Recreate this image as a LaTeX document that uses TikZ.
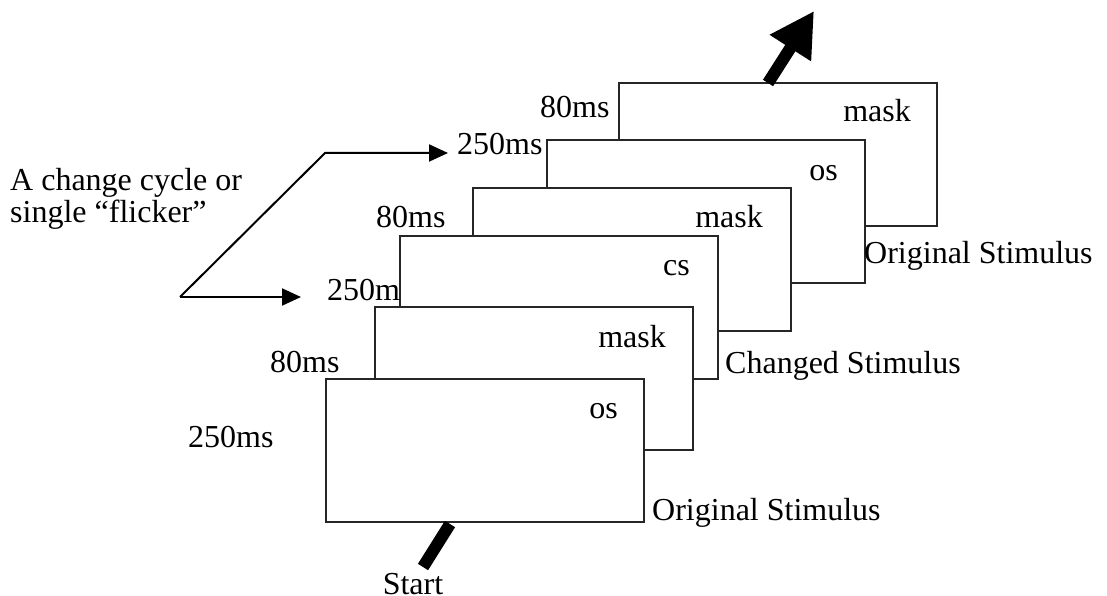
\documentclass[tikz,border=0pt]{standalone}
\usepackage{fontspec}
\setmainfont{Liberation Serif}
\usetikzlibrary{arrows.meta}
\begin{document}
\begin{tikzpicture}[x=1pt,y=-1pt,
  frame/.style={draw=black!85,line width=2pt,fill=white,inner sep=0pt,
    minimum width=318pt,minimum height=143pt,anchor=north west},
  lbl/.style={inner sep=0pt,font=\fontsize{32}{38}\selectfont},
  flow/.style={line width=2pt,-{Triangle[length=19pt,width=17pt]}},
  bigarrow/.style={line width=12pt,-{Triangle[length=44pt,width=46pt]}}]
\useasboundingbox (0,0) rectangle (1107,596);
% frames, back to front
\node[frame] (r1) at (618,82) {};
\node[frame] (r2) at (546,139) {};
\node[frame] (r3) at (472,187) {};
\node[frame] (r4) at (399,235) {};
\node[frame] (r5) at (374,306) {};
\node[frame] (r6) at (325,378) {};
% labels inside frames
\node[lbl,anchor=base east] (m1) at (911,122) {mask};
\node[lbl,anchor=base east] (o2) at (838,180) {os};
\node[lbl,anchor=base east] (m3) at (763,227) {mask};
\node[lbl,anchor=base east] (c4) at (690,275) {cs};
\node[lbl,anchor=base east] (m5) at (666,347) {mask};
\node[lbl,anchor=base east] (o6) at (618,418) {os};
% durations
\node[lbl,anchor=base west] (d1) at (540,118) {80ms};
\node[lbl,anchor=base west] (d2) at (457,155) {250ms};
\node[lbl,anchor=base west] (d3) at (376,227) {80ms};
\node[lbl,anchor=base west] (d4) at (327,300) {250m};
\node[lbl,anchor=base west] (d5) at (270,372) {80ms};
\node[lbl,anchor=base west] (d6) at (188,447) {250ms};
% stimulus names
\node[lbl,anchor=base west] (s1) at (864,263) {Original Stimulus};
\node[lbl,anchor=base west] (s2) at (725,373) {Changed Stimulus};
\node[lbl,anchor=base west] (s3) at (652,520) {Original Stimulus};
\node[lbl,anchor=base] (start) at (413,594) {Start};
% cycle label
\node[lbl,anchor=base west] (cy1) at (10,190) {A change cycle or};
\node[lbl,anchor=base west] (cy2) at (10,222) {single “flicker”};
% flicker arrows
\coordinate (fc) at (180,297);
\coordinate (fk) at (325,153);
\coordinate (fa) at (448,153);
\coordinate (fb) at (301,297);
\draw[flow] (fc) -- (fk) -- (fa);
\draw[flow] (fc) -- (fb);
% start bar and exit arrow
\coordinate (sb) at (423,567);
\coordinate (st) at (450,524);
\draw[line width=12pt,black] (sb) -- (st);
\coordinate (et) at (768,83);
\coordinate (eh) at (814,11);
\draw[bigarrow] (et) -- (eh);
\end{tikzpicture}
\end{document}
